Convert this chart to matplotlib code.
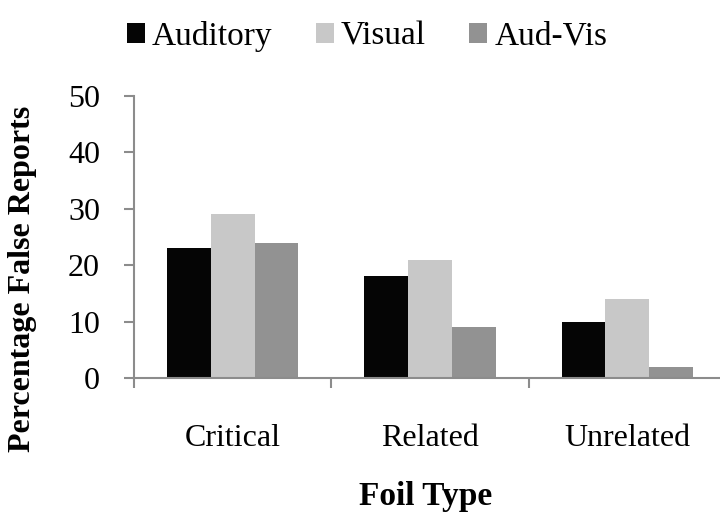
import matplotlib
matplotlib.use("Agg")
import matplotlib.pyplot as plt
from matplotlib.patches import Patch
import numpy as np

categories = ["Critical", "Related", "Unrelated"]
series_names = ["Auditory", "Visual", "Aud-Vis"]
auditory = [23, 18, 10]
visual = [29, 21, 14]
audvis = [24, 9, 2]
yticks = [0, 10, 20, 30, 40, 50]

colors = ["#050505", "#c8c8c8", "#929292"]
plt.rcParams['font.family'] = ['Liberation Serif', 'DejaVu Serif']

fig = plt.figure(figsize=(7.2, 5.17), dpi=100)
ax = fig.add_axes([134/720, 1-378/517, (726-134)/720, (378-96)/517])

x = np.arange(len(categories))
w = 0.222
for i, (vals, c) in enumerate(zip([auditory, visual, audvis], colors)):
    ax.bar(x + (i-1)*w, vals, width=w, color=c, edgecolor='none', label=series_names[i])

ax.set_xlim(-0.5, 2.5)
ax.set_ylim(0, 50)
ax.set_yticks(yticks)
ax.set_yticklabels([str(t) for t in yticks], fontsize=23)
ax.set_xticks(x)
ax.set_xticklabels(categories, fontsize=23)
ax.set_xticks([-0.5, 0.5, 1.5, 2.5], minor=True)

gray = "#8c8c8c"
for s in ['top', 'right']:
    ax.spines[s].set_visible(False)
for s in ['left', 'bottom']:
    ax.spines[s].set_color(gray)
    ax.spines[s].set_linewidth(1.5)
ax.tick_params(axis='y', which='major', direction='out', length=7.5, width=1.5, color=gray, pad=17)
ax.tick_params(axis='x', which='major', length=0, pad=33)
ax.tick_params(axis='x', which='minor', direction='out', length=7.5, width=1.5, color=gray)

fig.text(23/720, 1-279/517, "Percentage False Reports", rotation=90, ha='center', va='center',
         fontsize=23, fontweight='bold')
fig.text(426/720, 1-497/517, "Foil Type", ha='center', va='center', fontsize=24, fontweight='bold')

handles = [Patch(facecolor=c, edgecolor='none') for c in colors]
fig.legend(handles, series_names, loc='center', bbox_to_anchor=(367/720, 1-36/517), ncol=3,
           frameon=False, fontsize=24, handlelength=0.55, handleheight=0.55, handletextpad=0.2,
           columnspacing=1.3)

fig.savefig("out.png", dpi=100)
